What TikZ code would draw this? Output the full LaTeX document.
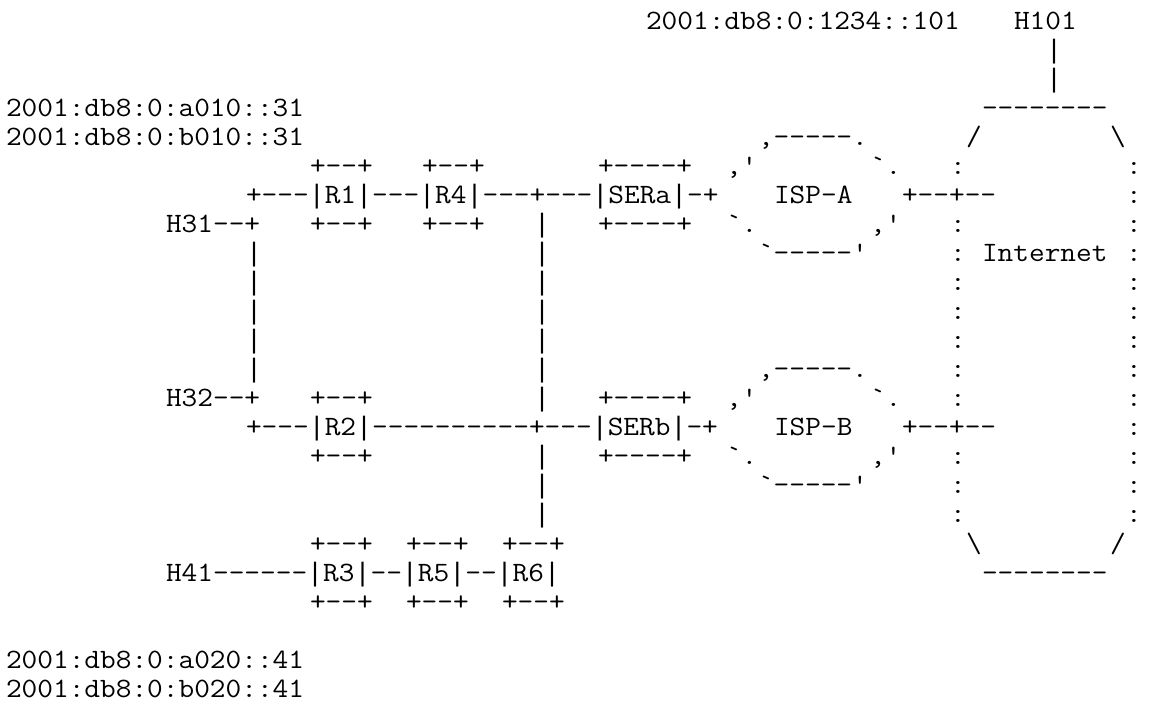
\documentclass[tikz,border=0pt]{standalone}
\usepackage{fontspec}
\newfontfamily\asciifont{Latin Modern Mono}[FakeStretch=1.088]
\newfontfamily\barfont{Liberation Mono}
\newcommand\vb{{\barfont\fontsize{26.67}{29.04}\selectfont|}}
\tikzset{txt/.style={anchor=base west, inner sep=0pt, outer sep=0pt,
  font=\asciifont\fontsize{28}{29.04}\selectfont, text=black}}
% \asc{name}{column}{line}{text}
\newcommand\asc[4]{\node[txt] (#1) at ({6+16*#2},{707-29.3-29.04*#3}) {#4};}
\begin{document}
\begin{tikzpicture}[x=1pt,y=1pt]
\fill[white] (0,0) rectangle (1152,707);
\useasboundingbox (0,0) rectangle (1152,707);
% line 0-2
\asc{a0}{40}{0}{2001:db8:0:1234::101}
\asc{h101}{63}{0}{H101}
\asc{l1}{65}{1}{\vb}
\asc{l2}{65}{2}{\vb}
% line 3
\asc{addra31}{0}{3}{2001:db8:0:a010::31}
\asc{inettop}{61}{3}{--------}
% line 4
\asc{addrb31}{0}{4}{2001:db8:0:b010::31}
\asc{ispatop}{47}{4}{,-----.}
\asc{inetnw}{60}{4}{/}
\asc{inetne}{69}{4}{\textbackslash}
% line 5
\asc{r1top}{19}{5}{+--+}
\asc{r4top}{26}{5}{+--+}
\asc{seratop}{37}{5}{+----+}
\asc{ispanw}{45}{5}{,'}
\asc{ispane}{54}{5}{`.}
\asc{l5l}{59}{5}{:}
\asc{l5r}{70}{5}{:}
% line 6
\asc{row6}{15}{6}{+---\vb R1\vb---\vb R4\vb---+---\vb SERa\vb-+}
\asc{ispa}{48}{6}{ISP-A}
\asc{linka}{56}{6}{+--+--}
\asc{l6r}{70}{6}{:}
% line 7
\asc{h31}{10}{7}{H31--+}
\asc{r1bot}{19}{7}{+--+}
\asc{r4bot}{26}{7}{+--+}
\asc{l7v}{33}{7}{\vb}
\asc{serabot}{37}{7}{+----+}
\asc{ispasw}{45}{7}{`.}
\asc{ispase}{54}{7}{,'}
\asc{l7l}{59}{7}{:}
\asc{l7r}{70}{7}{:}
% line 8
\asc{l8a}{15}{8}{\vb}
\asc{l8b}{33}{8}{\vb}
\asc{ispabot}{47}{8}{`-----'}
\asc{l8l}{59}{8}{:}
\asc{inet}{61}{8}{Internet}
\asc{l8r}{70}{8}{:}
% lines 9-11
\asc{l9a}{15}{9}{\vb}
\asc{l9b}{33}{9}{\vb}
\asc{l9l}{59}{9}{:}
\asc{l9r}{70}{9}{:}
\asc{l10a}{15}{10}{\vb}
\asc{l10b}{33}{10}{\vb}
\asc{l10l}{59}{10}{:}
\asc{l10r}{70}{10}{:}
\asc{l11a}{15}{11}{\vb}
\asc{l11b}{33}{11}{\vb}
\asc{l11l}{59}{11}{:}
\asc{l11r}{70}{11}{:}
% line 12
\asc{l12a}{15}{12}{\vb}
\asc{l12b}{33}{12}{\vb}
\asc{ispbtop}{47}{12}{,-----.}
\asc{l12l}{59}{12}{:}
\asc{l12r}{70}{12}{:}
% line 13
\asc{h32}{10}{13}{H32--+}
\asc{r2top}{19}{13}{+--+}
\asc{l13v}{33}{13}{\vb}
\asc{serbtop}{37}{13}{+----+}
\asc{ispbnw}{45}{13}{,'}
\asc{ispbne}{54}{13}{`.}
\asc{l13l}{59}{13}{:}
\asc{l13r}{70}{13}{:}
% line 14
\asc{row14}{15}{14}{+---\vb R2\vb----------+---\vb SERb\vb-+}
\asc{ispb}{48}{14}{ISP-B}
\asc{linkb}{56}{14}{+--+--}
\asc{l14r}{70}{14}{:}
% line 15
\asc{r2bot}{19}{15}{+--+}
\asc{l15v}{33}{15}{\vb}
\asc{serbbot}{37}{15}{+----+}
\asc{ispbsw}{45}{15}{`.}
\asc{ispbse}{54}{15}{,'}
\asc{l15l}{59}{15}{:}
\asc{l15r}{70}{15}{:}
% line 16
\asc{l16v}{33}{16}{\vb}
\asc{ispbbot}{47}{16}{`-----'}
\asc{l16l}{59}{16}{:}
\asc{l16r}{70}{16}{:}
% line 17
\asc{l17v}{33}{17}{\vb}
\asc{l17l}{59}{17}{:}
\asc{l17r}{70}{17}{:}
% line 18
\asc{r3top}{19}{18}{+--+}
\asc{r5top}{25}{18}{+--+}
\asc{r6top}{31}{18}{+--+}
\asc{inetsw}{60}{18}{\textbackslash}
\asc{inetse}{69}{18}{/}
% line 19
\asc{row19}{10}{19}{H41------\vb R3\vb--\vb R5\vb--\vb R6\vb}
\asc{inetbot}{61}{19}{--------}
% line 20
\asc{r3bot}{19}{20}{+--+}
\asc{r5bot}{25}{20}{+--+}
\asc{r6bot}{31}{20}{+--+}
% lines 22-23
\asc{addra41}{0}{22}{2001:db8:0:a020::41}
\asc{addrb41}{0}{23}{2001:db8:0:b020::41}
\end{tikzpicture}
\end{document}
